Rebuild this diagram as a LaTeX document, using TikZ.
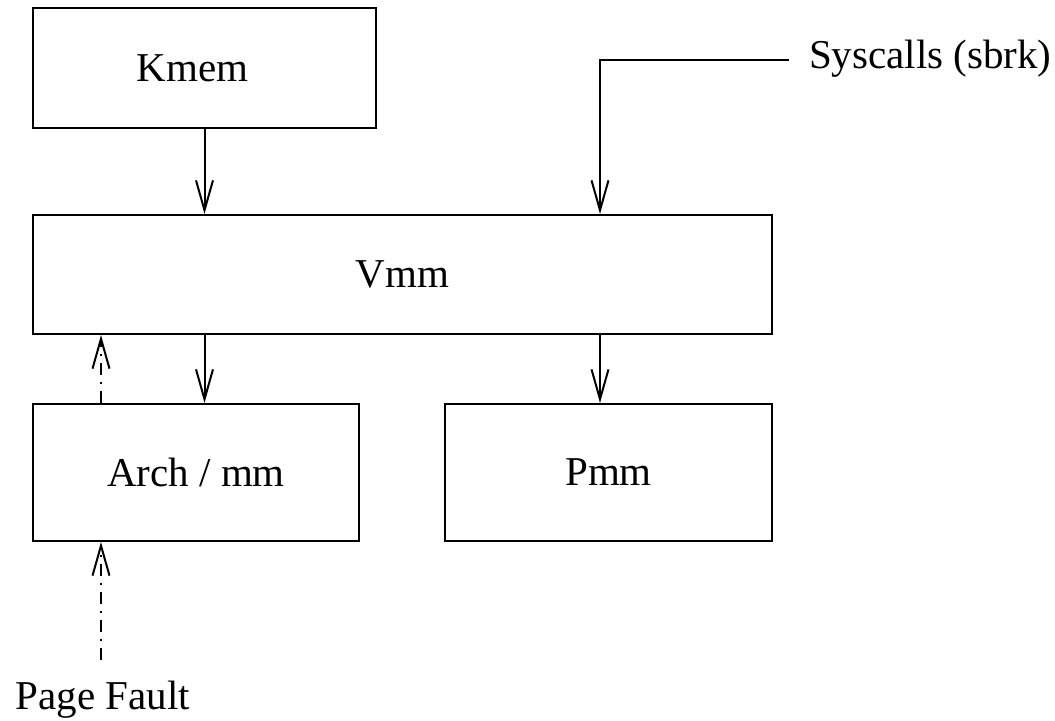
\documentclass[tikz,border=0pt]{standalone}
\usepackage{fontspec}
\setmainfont{Liberation Serif}
\usetikzlibrary{arrows.meta}

\tikzset{
  box/.style={draw, rectangle, inner sep=0pt},
  flow/.style={-{Straight Barb[length=15pt,width=8.5pt]}},
  dashdot/.style={dash pattern=on 6pt off 3.5pt on 1pt off 3.5pt},
}

\begin{document}
\begin{tikzpicture}[x=0.5pt, y=-0.5pt, line width=1pt, font=\fontsize{20.5}{24}\selectfont]
        \useasboundingbox (0,0) rectangle (1055,721);
        \node[box, minimum width=171.5pt, minimum height=60pt,
              label={[xshift=-6pt]center:Kmem}] (Kmem) at (204.5,68) {};
        \node[box, minimum width=369.5pt, minimum height=59.5pt] (Vmm) at (402.5,274.5) {Vmm};
        \node[box, minimum width=163pt, minimum height=68.5pt] (Arch) at (196,472.5) {Arch / mm};
        \node[box, minimum width=163.5pt, minimum height=68.5pt] (Pmm) at (608.5,472.5) {Pmm};
        \node[anchor=west, inner sep=0pt] (Syscalls) at (808,59) {Syscalls (sbrk)};
        \node[inner sep=0pt] (PageFault) at (103,700) {Page Fault};
        \coordinate (sysbend) at (600,60);
        \coordinate (fault) at (101,660);
        \draw[flow] (Kmem.south) -- (Vmm.north -| Kmem.south);
        \draw[flow] ([xshift=-9.5pt,yshift=-0.5pt]Syscalls.west) -- (sysbend) -- (Vmm.north -| sysbend);
        \draw[flow] (Vmm.south -| Kmem.south) -- (Arch.north -| Kmem.south);
        \draw[flow] (Vmm.south -| sysbend) -- (Pmm.north -| sysbend);
        \draw[flow, dashdot] (Arch.north -| fault) -- (Vmm.south -| fault);
        \draw[flow, dashdot] (fault) -- (Arch.south -| fault);
    \end{tikzpicture}
\end{document}
